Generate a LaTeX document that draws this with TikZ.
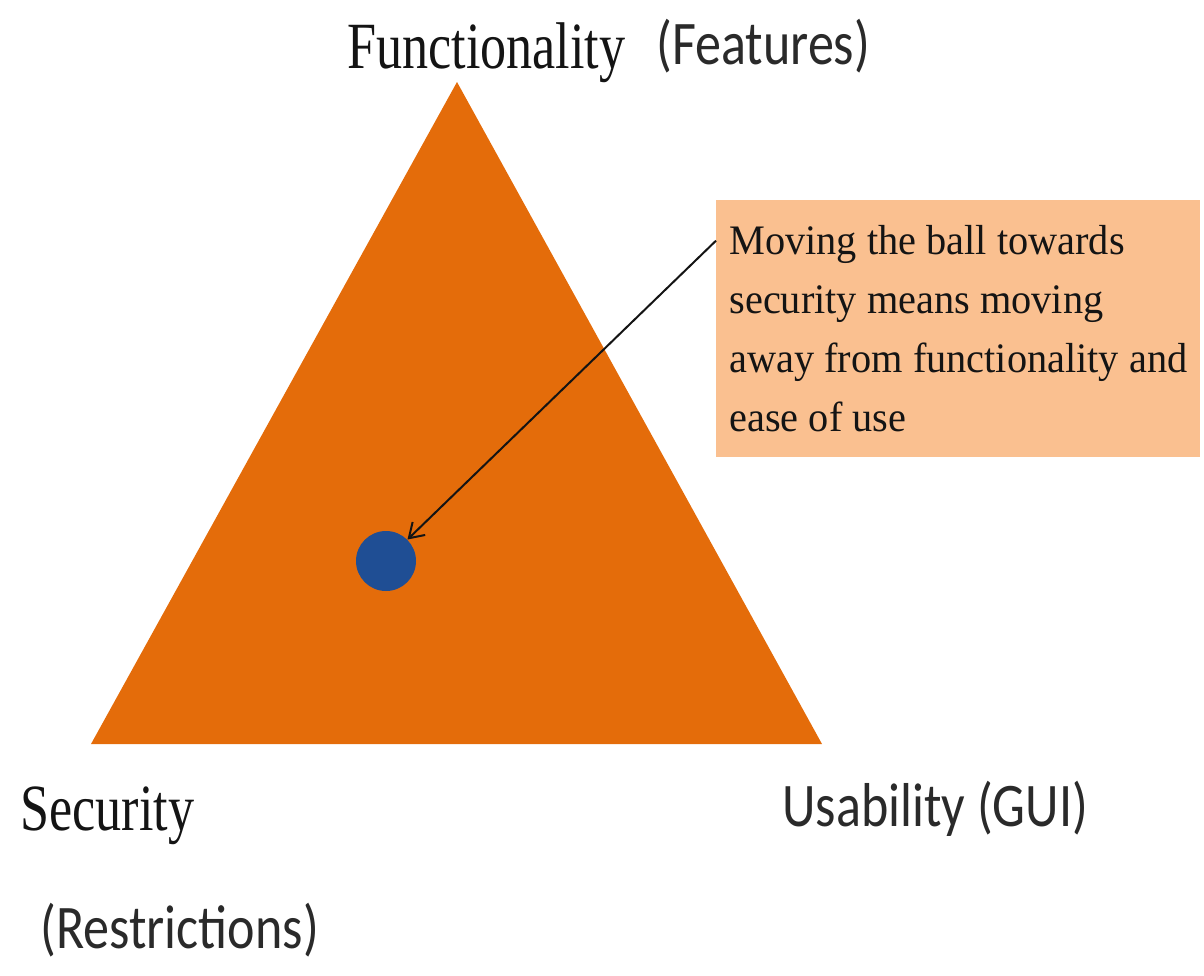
\documentclass[tikz,border=0pt]{standalone}
\usepackage{fontspec}
\setmainfont{Liberation Serif}
\newfontfamily\tallserif{Liberation Serif}[FakeStretch=0.79]
\newfontfamily\tallsans{Carlito}[FakeStretch=0.84]
\newfontfamily\noteserif{Liberation Serif}[FakeStretch=0.96]
\usetikzlibrary{arrows.meta}
\definecolor{triorange}{HTML}{E46C0A}
\definecolor{notepeach}{HTML}{FAC090}
\definecolor{ballblue}{HTML}{1F4E94}
\definecolor{inkblack}{HTML}{141414}
\definecolor{inkgrey}{HTML}{2A2A2A}
\tikzset{
  tr lab/.style={inner sep=0pt, anchor=base west, text=inkblack},
  tr serif/.style={tr lab, font=\tallserif\fontsize{33}{39}\selectfont},
  tr sans/.style={tr lab, font=\tallsans\fontsize{31}{37}\selectfont, text=inkgrey},
  tr note/.style={fill=notepeach, align=left, inner sep=0pt, minimum width=242pt, minimum height=128.5pt,
                  font=\noteserif\fontsize{21}{29.5}\selectfont, text=inkblack},
  tr ball/.style={circle, fill=ballblue, minimum size=30pt, inner sep=0pt},
  tr arr/.style={-{Straight Barb[length=7pt, width=9pt]}, line width=1pt, inkblack},
}
\begin{document}
\begin{tikzpicture}[x=0.5pt, y=-0.5pt]
  \useasboundingbox (0,0) rectangle (1204,975);
  % the triangle
  \coordinate (fun) at (457,82);
  \coordinate (sec) at (91,744);
  \coordinate (usa) at (822,744);
  \fill[triorange] (fun) -- (usa) -- (sec) -- cycle;
  \node[tr ball] (ball) at (386,561) {};
  \node[tr note, anchor=north west] (note) at (716,200)
     {Moving the ball towards\\ security means moving\\ away from functionality and\\ ease of use};
  \draw[tr arr] (note.160) -- (ball.45);
  % corner labels
  \node[tr serif] (funlab) at (347,68) {Functionality};
  \node[tr sans] (feat) at (656,64) {(Features)};
  \node[tr serif] (seclab) at (20,830) {Security};
  \node[tr sans] (restr) at (40,948) {(Restrictions)};
  \node[tr sans] (usalab) at (782,826) {Usability (GUI)};
\end{tikzpicture}
\end{document}
